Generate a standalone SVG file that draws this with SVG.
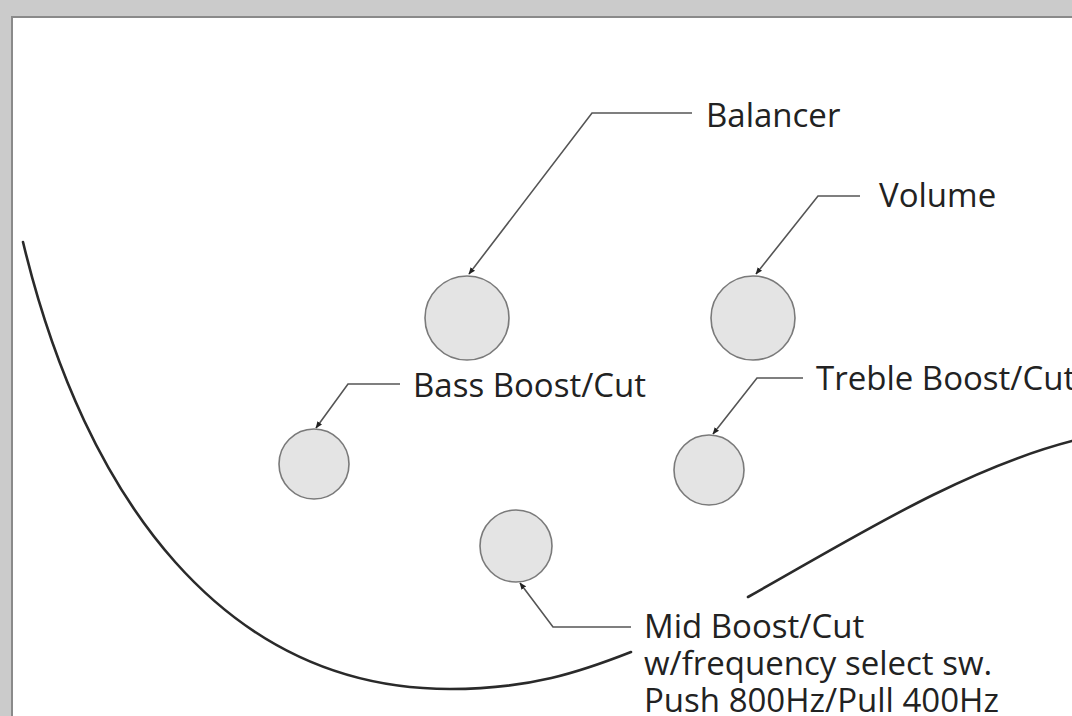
<svg xmlns="http://www.w3.org/2000/svg" width="1072" height="716" viewBox="0 0 1072 716">
<defs>
<marker id="ah" viewBox="0 0 10 10" refX="9" refY="5" markerWidth="7" markerHeight="7" markerUnits="userSpaceOnUse" orient="auto">
<path d="M0,1 L10,5 L0,9 Z" fill="#222"/>
</marker>
<style>
.knob{fill:#e4e4e4;stroke:#7a7a7a;stroke-width:1.6}
.lbl{font-family:"Open Sans","Noto Sans",sans-serif;font-size:33px;fill:#222}
.lead{fill:none;stroke:#555;stroke-width:1.6;marker-end:url(#ah)}
.body{fill:none;stroke:#2a2a2a;stroke-width:2.6;stroke-linecap:round}
</style>
</defs>
<rect x="0" y="0" width="1072" height="716" fill="#cbcbcb"/>
<rect x="12" y="17" width="1070" height="710" fill="#ffffff" stroke="#8a8a8a" stroke-width="2"/>
<g id="body">
<path class="body" d="M23,242 C 85,500 225,689 450,689 C 530,689 580,672 631,652"/>
<path class="body" d="M748,597 C 850,540 960,470 1072,441"/>
</g>
<g id="connectors">
<path class="lead" d="M692,113 L592,113 L469,274"/>
<path class="lead" d="M860,196 L818,196 L756,274"/>
<path class="lead" d="M400,384 L348,384 L316,428"/>
<path class="lead" d="M803,378 L757,378 L713,434"/>
<path class="lead" d="M631,627 L553,627 L520,583"/>
</g>
<g id="balancer">
<circle class="knob" cx="467" cy="318" r="42"/>
<text class="lbl" x="706" y="127">Balancer</text>
</g>
<g id="volume">
<circle class="knob" cx="753" cy="318" r="42"/>
<text class="lbl" x="879" y="207">Volume</text>
</g>
<g id="bass">
<circle class="knob" cx="314" cy="464" r="35"/>
<text class="lbl" x="413" y="397">Bass Boost/Cut</text>
</g>
<g id="treble">
<circle class="knob" cx="709" cy="470" r="35"/>
<text class="lbl" x="816" y="390">Treble Boost/Cut</text>
</g>
<g id="mid">
<circle class="knob" cx="516" cy="546" r="36"/>
<text class="lbl" x="644" y="638">Mid Boost/Cut</text>
<text class="lbl" x="644" y="675">w/frequency select sw.</text>
<text class="lbl" x="644" y="712">Push 800Hz/Pull 400Hz</text>
</g>
</svg>
